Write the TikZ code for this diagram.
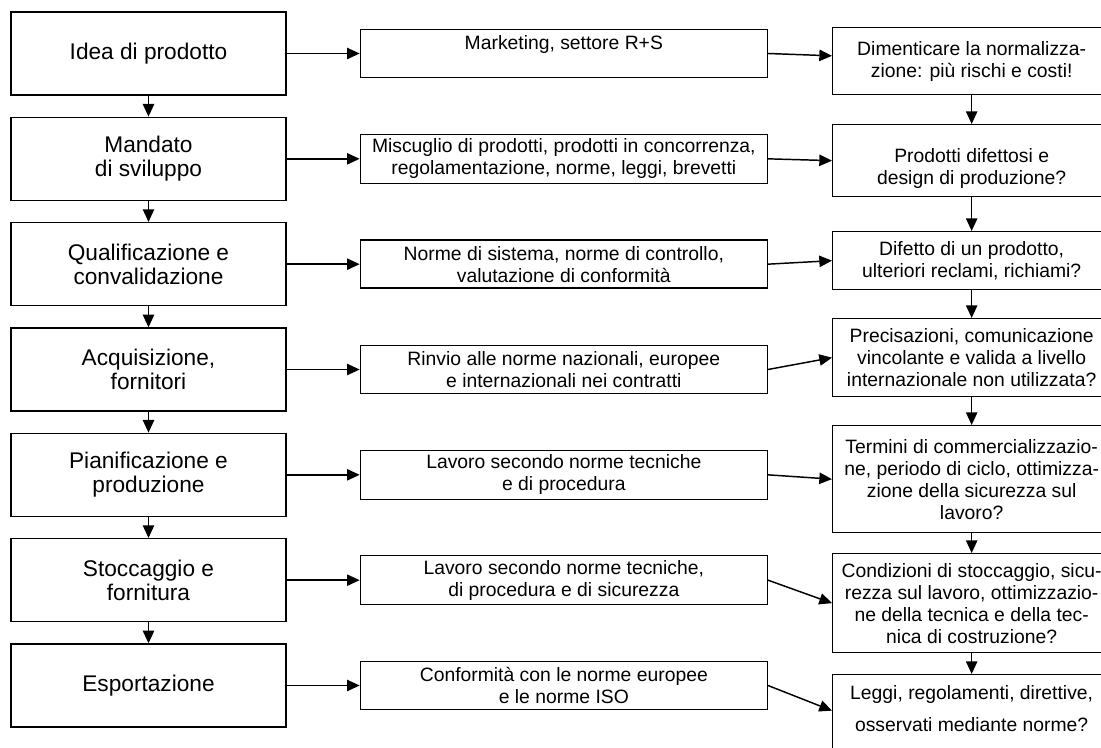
\documentclass[tikz,border=0pt]{standalone}
\usepackage{fontspec}
\setmainfont{Liberation Sans}
\usetikzlibrary{arrows.meta, positioning}

\tikzset{
  stage/.style={draw, line width=1pt, minimum width=206.25pt, minimum height=62.25pt,
    align=center, font=\fontsize{17}{18}\selectfont},
  task/.style={draw, line width=1pt, minimum width=305.25pt, minimum height=36pt,
    align=center, font=\fontsize{14.5}{16.5}\selectfont},
  risk/.style={draw, line width=1pt, anchor=north west, minimum width=208.5pt,
    align=center, font=\fontsize{14.5}{16.5}\selectfont},
  flow/.style={-{Triangle[length=9.5pt,width=8.5pt]}, line width=1.1pt},
}

\begin{document}
\begin{tikzpicture}[x=0.75pt, y=-0.75pt, node distance=15.75pt and 54.75pt]
\useasboundingbox (0,0) rectangle (1101,748);
\clip (0,0) rectangle (1101,748);

% fasi
\node [stage] (s1) at (148.5,53.5) {Idea di prodotto};
\node [stage] (s2) [below=of s1] {Mandato\\di sviluppo};
\node [stage] (s3) [below=of s2] {Qualificazione e\\convalidazione};
\node [stage] (s4) [below=of s3] {Acquisizione,\\fornitori};
\node [stage] (s5) [below=of s4] {Pianificazione e\\produzione};
\node [stage] (s6) [below=of s5] {Stoccaggio e\\fornitura};
\node [stage] (s7) [below=of s6] {Esportazione};

% norme
\node [task] (m1) [right=of s1] {Marketing, settore R+S\\\mbox{}};
\node [task] (m2) [right=of s2] {Miscuglio di prodotti, prodotti in concorrenza,\\regolamentazione, norme, leggi, brevetti};
\node [task] (m3) [right=of s3] {Norme di sistema, norme di controllo,\\valutazione di conformità};
\node [task] (m4) [right=of s4] {Rinvio alle norme nazionali, europee\\e internazionali nei contratti};
\node [task] (m5) [right=of s5] {Lavoro secondo norme tecniche\\e di procedura};
\node [task] (m6) [right=of s6] {Lavoro secondo norme tecniche,\\di procedura e di sicurezza};
\node [task] (m7) [right=of s7] {Conformità con le norme europee\\e le norme ISO};

% rischi
\node [risk, minimum height=50.25pt] (r1) at (832,27) {Dimenticare la normalizza-\\zione: più rischi e costi!};
\node [risk, minimum height=54pt] (r2) at (832,124) {\rule{0pt}{22pt}Prodotti difettosi e\\design di produzione?};
\node [risk, minimum height=43.5pt] (r3) at (832,231) {Difetto di un prodotto,\\ulteriori reclami, richiami?};
\node [risk, minimum height=58.5pt] (r4) at (832,318) {Precisazioni, comunicazione\\vincolante e valida a livello\\internazionale non utilizzata?};
\node [risk, minimum height=80.25pt] (r5) at (832,425) {Termini di commercializzazio-\\ne, periodo di ciclo, ottimizza-\\zione della sicurezza sul\\lavoro?};
\node [risk, minimum height=74.25pt] (r6) at (832,553) {Condizioni di stoccaggio, sicu-\\rezza sul lavoro, ottimizzazio-\\ne della tecnica e della tec-\\nica di costruzione?};
\node [risk, minimum height=67.5pt] (r7) at (832,674) {Leggi, regolamenti, direttive,\\[7.5pt]osservati mediante norme?\\\mbox{}};

% collegamenti
\path [flow]
  (s1) edge (s2)
  (s2) edge (s3)
  (s3) edge (s4)
  (s4) edge (s5)
  (s5) edge (s6)
  (s6) edge (s7)
  (s1) edge (m1)
  (s2) edge (m2)
  (s3) edge (m3)
  (s4) edge (m4)
  (s5) edge (m5)
  (s6) edge (m6)
  (s7) edge (m7)
  (m1.east) edge ([yshift=4pt]r1.west)
  (m2.east) edge (r2.west)
  (m3.east) edge (r3.west)
  (m4.east) edge (r4.west)
  (m5.east) edge (r5.west)
  (m6.east) edge (r6.west)
  (m7.east) edge ([yshift=6.75pt]r7.west)
  (r1) edge (r2)
  (r2) edge (r3)
  (r3) edge (r4)
  (r4) edge (r5)
  (r5) edge (r6)
  (r6) edge (r7);
\end{tikzpicture}
\end{document}
